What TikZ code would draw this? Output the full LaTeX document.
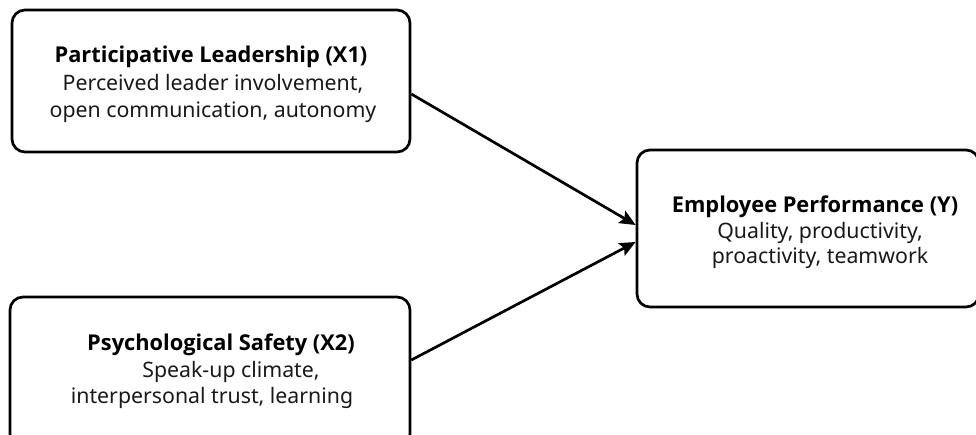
\documentclass[tikz,border=0pt]{standalone}
\usepackage{fontspec}
\setmainfont{Noto Sans}
\newfontfamily\ttlfont{Open Sans}
\usetikzlibrary{arrows.meta,calc}
\tikzset{
  box/.style={draw=black,line width=2.7pt,rounded corners=13pt,fill=white,inner sep=0pt},
  ttl/.style={anchor=base,font=\ttlfont\fontsize{21.8}{23}\selectfont\bfseries,inner sep=0pt},
  txt/.style={anchor=base,font=\fontsize{21.3}{23}\selectfont,inner sep=0pt,text=black!90},
  conn/.style={line width=2.7pt,-{Stealth[length=16pt,width=14pt,inset=3pt]}}
}
\begin{document}
\begin{tikzpicture}[x=1pt,y=-1pt]
\clip (0,0) rectangle (976,434);
\fill[white] (0,0) rectangle (976,434);
% boxes
\node[box,minimum width=398pt,minimum height=142pt] (b1) at (211,81) {};
\node[box,minimum width=400pt,minimum height=150pt] (b2) at (210,372) {};
\node[box,minimum width=342pt,minimum height=157pt] (b3) at (808,228.5) {};
% texts box 1
\node[ttl] (t1) at (211,62) {Participative Leadership (X1)};
\node[txt] (t1a) at (213,90) {Perceived leader involvement,};
\node[txt] (t1b) at (213,117) {open communication, autonomy};
% texts box 2
\node[ttl] (t2) at (221,350) {Psychological Safety (X2)};
\node[txt] (t2a) at (231,377) {Speak-up climate,};
\node[txt] (t2b) at (212,403) {interpersonal trust, learning};
% texts box 3
\node[ttl] (t3) at (815,212) {Employee Performance (Y)};
\node[txt] (t3a) at (820,238) {Quality, productivity,};
\node[txt] (t3b) at (820,263) {proactivity, teamwork};
% connectors
\coordinate (s1) at ($(b1.east)+(0,13)$);
\coordinate (e1) at ($(b3.west)+(0,-3.5)$);
\coordinate (s2) at ($(b2.east)+(0,-12)$);
\coordinate (e2) at ($(b3.west)+(0,13.5)$);
\draw[conn] (s1) -- (e1);
\draw[conn] (s2) -- (e2);
\end{tikzpicture}
\end{document}
